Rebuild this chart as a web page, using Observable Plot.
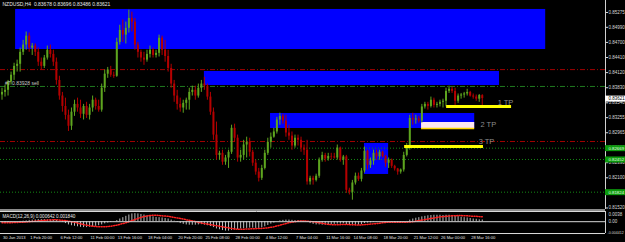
<!DOCTYPE html>
<html><head><meta charset="utf-8">
<script src="https://cdn.jsdelivr.net/npm/d3@7"></script>
<script src="https://cdn.jsdelivr.net/npm/@observablehq/plot@0.6"></script>
<style>
html,body{margin:0;padding:0;background:#000;overflow:hidden;width:625px;height:242px}
#chart svg{display:block}
</style></head>
<body><div id="chart"></div>
<script>
// ---- NZDUSD H4 candles (price) ----
const open = [0.8369,0.8374,0.8378,0.8394,0.8407,0.8424,0.8428,0.8451,0.8465,0.8482,
0.8459,0.8463,0.8451,0.8432,0.8424,0.8440,0.8455,0.8447,0.8432,0.8397,
0.8367,0.8347,0.8330,0.8309,0.8336,0.8351,0.8344,0.8332,0.8347,0.8330,
0.8344,0.8359,0.8347,0.8340,0.8382,0.8409,0.8417,0.8407,0.8405,0.8470,
0.8493,0.8484,0.8497,0.8516,0.8509,0.8465,0.8451,0.8440,0.8436,0.8447,
0.8455,0.8445,0.8449,0.8478,0.8455,0.8443,0.8420,0.8390,0.8367,0.8351,
0.8344,0.8353,0.8359,0.8374,0.8378,0.8367,0.8382,0.8390,0.8386,0.8365,
0.8336,0.8292,0.8253,0.8257,0.8240,0.8248,0.8259,0.8305,0.8286,0.8248,
0.8253,0.8273,0.8278,0.8259,0.8238,0.8221,0.8209,0.8228,0.8257,0.8278,
0.8288,0.8298,0.8321,0.8328,0.8319,0.8296,0.8290,0.8271,0.8286,0.8282,
0.8267,0.8263,0.8202,0.8209,0.8205,0.8213,0.8244,0.8253,0.8246,0.8251,
0.8250,0.8248,0.8267,0.8244,0.8250,0.8186,0.8182,0.8200,0.8213,0.8207,
0.8223,0.8261,0.8234,0.8242,0.8257,0.8250,0.8259,0.8251,0.8238,0.8244,
0.8232,0.8227,0.8221,0.8225,0.8253,0.8269,0.8324,0.8321,0.8323,0.8319,
0.8346,0.8351,0.8347,0.8359,0.8349,0.8351,0.8355,0.8357,0.8376,0.8380,
0.8376,0.8357,0.8367,0.8369,0.8371,0.8374,0.8367,0.8365,0.8361,0.83678];
const high = [0.8382,0.8388,0.8397,0.8413,0.8430,0.8436,0.8459,0.8474,0.8490,0.8488,
0.8468,0.8467,0.8459,0.8440,0.8445,0.8463,0.8465,0.8455,0.8440,0.8405,
0.8374,0.8363,0.8340,0.8344,0.8359,0.8363,0.8359,0.8351,0.8355,0.8351,
0.8367,0.8363,0.8359,0.8390,0.8417,0.8422,0.8424,0.8413,0.8478,0.8503,
0.8513,0.8509,0.8532,0.8528,0.8516,0.8470,0.8455,0.8451,0.8455,0.8463,
0.8459,0.8455,0.8484,0.8482,0.8474,0.8455,0.8428,0.8397,0.8378,0.8363,
0.8359,0.8363,0.8382,0.8386,0.8386,0.8390,0.8397,0.8403,0.8390,0.8374,
0.8344,0.8317,0.8261,0.8263,0.8253,0.8263,0.8311,0.8313,0.8292,0.8263,
0.8282,0.8288,0.8286,0.8263,0.8244,0.8228,0.8234,0.8263,0.8286,0.8296,
0.8305,0.8326,0.8334,0.8332,0.8330,0.8311,0.8298,0.8292,0.8292,0.8288,
0.8273,0.8282,0.8213,0.8213,0.8217,0.8248,0.8259,0.8257,0.8257,0.8257,
0.8257,0.8273,0.8269,0.8253,0.8253,0.8190,0.8205,0.8219,0.8219,0.8228,
0.8269,0.8263,0.8248,0.8263,0.8263,0.8263,0.8261,0.8253,0.8248,0.8246,
0.8234,0.8228,0.8227,0.8259,0.8276,0.8330,0.8334,0.8330,0.8328,0.8351,
0.8355,0.8355,0.8365,0.8363,0.8355,0.8359,0.8361,0.8382,0.8386,0.8384,
0.8382,0.8371,0.8372,0.8374,0.8380,0.8376,0.8371,0.8369,0.8370,0.83696];
const low = [0.8359,0.8365,0.8367,0.8388,0.8397,0.8413,0.8413,0.8445,0.8455,0.8451,
0.8445,0.8443,0.8424,0.8417,0.8420,0.8436,0.8440,0.8424,0.8388,0.8359,
0.8336,0.8321,0.8299,0.8301,0.8328,0.8336,0.8324,0.8321,0.8324,0.8321,
0.8336,0.8340,0.8336,0.8336,0.8374,0.8401,0.8403,0.8401,0.8403,0.8465,
0.8470,0.8467,0.8488,0.8490,0.8455,0.8440,0.8432,0.8426,0.8432,0.8440,
0.8440,0.8440,0.8442,0.8445,0.8432,0.8413,0.8382,0.8355,0.8340,0.8336,
0.8334,0.8340,0.8340,0.8367,0.8359,0.8363,0.8374,0.8378,0.8359,0.8330,
0.8282,0.8244,0.8244,0.8234,0.8234,0.8228,0.8255,0.8278,0.8240,0.8240,
0.8244,0.8248,0.8250,0.8232,0.8215,0.8202,0.8205,0.8225,0.8253,0.8267,
0.8286,0.8294,0.8311,0.8313,0.8288,0.8282,0.8263,0.8267,0.8271,0.8259,
0.8253,0.8196,0.8196,0.8196,0.8202,0.8209,0.8240,0.8240,0.8242,0.8244,
0.8246,0.8244,0.8240,0.8234,0.8180,0.8177,0.8167,0.8196,0.8203,0.8202,
0.8219,0.8225,0.8228,0.8234,0.8244,0.8244,0.8248,0.8230,0.8228,0.8228,
0.8223,0.8215,0.8217,0.8221,0.8250,0.8263,0.8311,0.8313,0.8315,0.8315,
0.8342,0.8340,0.8344,0.8344,0.8344,0.8346,0.8344,0.8346,0.8372,0.8372,
0.8349,0.8353,0.8361,0.8363,0.8367,0.8365,0.8361,0.8357,0.8355,0.83486];
const close = [0.8374,0.8378,0.8394,0.8407,0.8424,0.8428,0.8451,0.8465,0.8482,0.8459,
0.8463,0.8451,0.8432,0.8424,0.8440,0.8455,0.8447,0.8432,0.8397,0.8367,
0.8347,0.8330,0.8309,0.8336,0.8351,0.8344,0.8332,0.8347,0.8330,0.8344,
0.8359,0.8347,0.8340,0.8382,0.8409,0.8417,0.8407,0.8405,0.8470,0.8493,
0.8484,0.8497,0.8516,0.8509,0.8465,0.8451,0.8440,0.8436,0.8447,0.8455,
0.8445,0.8449,0.8478,0.8455,0.8443,0.8420,0.8390,0.8367,0.8351,0.8344,
0.8353,0.8359,0.8374,0.8378,0.8367,0.8382,0.8390,0.8386,0.8365,0.8336,
0.8292,0.8253,0.8257,0.8240,0.8248,0.8259,0.8305,0.8286,0.8248,0.8253,
0.8273,0.8278,0.8259,0.8238,0.8221,0.8209,0.8228,0.8257,0.8278,0.8288,
0.8298,0.8321,0.8328,0.8319,0.8296,0.8290,0.8271,0.8286,0.8282,0.8267,
0.8263,0.8202,0.8209,0.8205,0.8213,0.8244,0.8253,0.8246,0.8251,0.8250,
0.8248,0.8267,0.8244,0.8250,0.8186,0.8182,0.8200,0.8213,0.8207,0.8223,
0.8261,0.8234,0.8242,0.8257,0.8250,0.8259,0.8251,0.8238,0.8244,0.8232,
0.8227,0.8221,0.8225,0.8253,0.8269,0.8324,0.8321,0.8323,0.8319,0.8346,
0.8351,0.8347,0.8359,0.8349,0.8351,0.8355,0.8357,0.8376,0.8380,0.8376,
0.8357,0.8367,0.8369,0.8371,0.8374,0.8367,0.8365,0.8361,0.8368,0.83621];

// ---- MACD(12,26,9): main (histogram) and signal ----
const macdMain = [-0.0004,-0.0004,-0.0003,-0.0002,-0.0001,0,0.0001,0.0002,0.0003,0.0005,
0.0006,0.0007,0.0008,0.0008,0.0008,0.0007,0.0007,0.0006,0.0005,0.0002,
-0.0002,-0.0007,-0.0012,-0.0015,-0.0017,-0.0019,-0.0021,-0.0022,-0.0022,-0.0021,
-0.0019,-0.0017,-0.0015,-0.0012,-0.0008,-0.0005,-0.0003,-0.0001,0.0004,0.0010,
0.0015,0.0020,0.0025,0.0029,0.0030,0.0029,0.0027,0.0025,0.0022,0.0020,
0.0018,0.0016,0.0015,0.0014,0.0012,0.0010,0.0006,0.0002,-0.0003,-0.0007,
-0.0010,-0.0012,-0.0013,-0.0013,-0.0013,-0.0012,-0.0011,-0.0013,-0.0015,-0.0018,
-0.0022,-0.0027,-0.0030,-0.0033,-0.0035,-0.0035,-0.0033,-0.0031,-0.0029,-0.0027,
-0.0026,-0.0025,-0.0024,-0.0024,-0.0025,-0.0025,-0.0023,-0.0019,-0.0014,-0.0009,
-0.0005,0,0.0003,0.0005,0.0006,0.0006,0.0005,0.0004,0.0004,0.0003,
0.0002,-0.0002,-0.0007,-0.0010,-0.0012,-0.0012,-0.0013,-0.0013,-0.0012,-0.0011,
-0.0010,-0.0009,-0.0009,-0.0008,-0.0011,-0.0014,-0.0015,-0.0014,-0.0013,-0.0011,
-0.0007,-0.0005,-0.0004,-0.0002,-0.0001,0,0,-0.0001,-0.0001,-0.0002,
-0.0003,-0.0004,-0.0004,-0.0002,0.0001,0.0006,0.0010,0.0013,0.0015,0.0018,
0.0020,0.0022,0.0023,0.0024,0.0024,0.0024,0.0023,0.0024,0.0024,0.0023,
0.0021,0.0019,0.0017,0.0015,0.0014,0.0012,0.0010,0.0009,0.0007,0.000642];
const macdSignal = [-0.0004,-0.0004,-0.0004,-0.0004,-0.0003,-0.0003,-0.0002,-0.0002,-0.0001,0,
0.0001,0.0002,0.0003,0.0004,0.0005,0.0006,0.0006,0.0007,0.0007,0.0006,
0.0005,0.0004,0.0002,0,-0.0002,-0.0005,-0.0008,-0.0011,-0.0013,-0.0015,
-0.0017,-0.0018,-0.0019,-0.0019,-0.0019,-0.0018,-0.0017,-0.0015,-0.0013,-0.0010,
-0.0007,-0.0004,0,0.0004,0.0008,0.0012,0.0016,0.0019,0.0021,0.0023,
0.0024,0.0024,0.0023,0.0022,0.0021,0.0020,0.0018,0.0016,0.0014,0.0012,
0.0010,0.0007,0.0005,0.0003,0.0001,-0.0002,-0.0005,-0.0007,-0.0009,-0.0011,
-0.0013,-0.0015,-0.0017,-0.0019,-0.0021,-0.0023,-0.0025,-0.0027,-0.0028,-0.0028,
-0.0028,-0.0027,-0.0027,-0.0026,-0.0026,-0.0025,-0.0025,-0.0024,-0.0023,-0.0021,
-0.0019,-0.0016,-0.0013,-0.0010,-0.0007,-0.0004,-0.0002,0,0.0002,0.0003,
0.0003,0.0002,0.0001,0,-0.0002,-0.0004,-0.0006,-0.0008,-0.0010,-0.0011,
-0.0011,-0.0011,-0.0011,-0.0010,-0.0010,-0.0011,-0.0011,-0.0012,-0.0012,-0.0012,
-0.0011,-0.0010,-0.0009,-0.0008,-0.0007,-0.0006,-0.0004,-0.0003,-0.0002,-0.0002,
-0.0002,-0.0002,-0.0002,-0.0002,-0.0002,-0.0001,0,0.0002,0.0004,0.0006,
0.0008,0.0010,0.0012,0.0014,0.0016,0.0018,0.0019,0.0020,0.0021,0.0022,
0.0022,0.0023,0.0023,0.0022,0.0022,0.0021,0.0020,0.0020,0.0019,0.00184];

// ---- axis labels ----
const priceTicks = [0.85275,0.84990,0.84700,0.84410,0.84120,0.83830,0.83540,0.83255,0.82965,0.82680,0.82390,0.82100,0.81810,0.81520];
const macdTop = 0.0038, macdZero = 0, macdBottom = -0.00441;
const macdTopLabel = "0.0038", macdZeroLabel = "0.00", macdBottomLabel = "-0.004412";
const timeLabels = ["30 Jan 2013","1 Feb 20:00","6 Feb 12:00","11 Feb 00:00","13 Feb 16:00","18 Feb 04:00","20 Feb 20:00","25 Feb 08:00","28 Feb 00:00","4 Mar 12:00","7 Mar 04:00","11 Mar 16:00","14 Mar 08:00","18 Mar 20:00","21 Mar 12:00","26 Mar 00:00","28 Mar 16:00"];
const timeLabelBars = [0,9,19,29,38,48,58,67,77,87,97,107,116,126,136,145,155];

// ---- drawn objects (bar index / price) ----
const zoneBar1 = [4.5, 67, 88.9, 120];
const zoneBar2 = [180, 164.7, 156.5, 128];
const zoneTop = [0.85333, 0.84142, 0.83335, 0.82759];
const zoneBottom = [0.84564, 0.83873, 0.83047, 0.82164];
const tpNames = ["1 TP", "2 TP", "3 TP"];
const tpPrice = [0.83470, 0.83047, 0.82702];
const tpBar1 = [147.2, 138.9, 133.3];
const tpBar2 = [168.7, 156.5, 159.4];
const tpLabelBar = [164.1, 158.4, 157.8];
const tpLabelPrice = [0.83547, 0.83124, 0.82797];
const tp2BoxTop = 0.83162;
const redLevels = [0.84178, 0.82797];
const sellLevel = 0.83854;
const sellText = "#7 0.83928 sell";
const greenLevels = [0.82669, 0.82452, 0.81824];
const bid = 0.83621;
const title = "NZDUSD,H4  0.83678 0.83696 0.83486 0.83621";
const macdTitle = "MACD(12,26,9) 0.000642 0.001840";

// ---- build tables ----
const N = close.length;
const bars = d3.range(N).map(i => ({i, o: open[i], h: high[i], l: low[i], c: close[i]}));
const ups = bars.filter(d => d.c >= d.o), downs = bars.filter(d => d.c < d.o);
const zones = zoneTop.map((t, k) => ({x1: zoneBar1[k], x2: zoneBar2[k], top: t, bottom: zoneBottom[k]}));
const tps = tpNames.map((n, k) => ({name: n, p: tpPrice[k], x1: tpBar1[k], x2: tpBar2[k], lx: tpLabelBar[k], lp: tpLabelPrice[k]}));
const macd = d3.range(N).map(i => ({i, m: macdMain[i], s: macdSignal[i]}));
const times = timeLabels.map((t, k) => ({t, i: timeLabelBars[k]}));

const xDomain = [-0.5, 199.8];
const xEnd = xDomain[1], xOut = xDomain[1] + 7;
const UP = "#5ea51f", DOWN = "#b40000";
const FONT = "'Liberation Sans', Arial, sans-serif";
const AX = "#d8d8d8";

const mainChart = Plot.plot({
  width: 625, height: 209,
  marginLeft: 0, marginRight: 20, marginTop: 0, marginBottom: 0,
  style: {background: "#000", color: AX, fontFamily: FONT, fontSize: "4.5px", overflow: "visible"},
  x: {domain: xDomain, axis: null},
  y: {domain: [0.81491, 0.85505], axis: null},
  marks: [
    Plot.rect(zones, {x1: "x1", x2: "x2", y1: "top", y2: "bottom", fill: "#0000ff"}),
    Plot.rect([tps[1]], {x1: "x1", x2: "x2", y1: tp2BoxTop, y2: "p", fill: "#fde6f1"}),
    Plot.ruleY(redLevels, {stroke: "#a00000", strokeDasharray: "5,2,1,2"}),
    Plot.ruleY([sellLevel], {stroke: "#1f7a1f", strokeDasharray: "5,2,1,2"}),
    Plot.ruleY(greenLevels, {stroke: "#148a14", strokeDasharray: "1,2"}),
    Plot.ruleX(ups, {x: "i", y1: "l", y2: "h", stroke: UP}),
    Plot.ruleX(downs, {x: "i", y1: "l", y2: "h", stroke: DOWN}),
    Plot.ruleX(ups, {x: "i", y1: "o", y2: "c", stroke: UP, strokeWidth: 2}),
    Plot.ruleX(downs, {x: "i", y1: "o", y2: "c", stroke: DOWN, strokeWidth: 2}),
    Plot.ruleY(tps.filter(d => d.name !== "2 TP"), {y: "p", x1: "x1", x2: "x2", stroke: "#ffff00", strokeWidth: 3}),
    Plot.ruleY(tps.filter(d => d.name === "2 TP"), {y: "p", x1: "x1", x2: "x2", stroke: "#ffd700", strokeWidth: 1.5}),
    Plot.text(tps, {x: "lx", y: "lp", text: "name", textAnchor: "start", fill: "#8c8c8c", fontSize: 7.5}),
    Plot.text([sellText], {x: 1, y: sellLevel, text: d => d, textAnchor: "start", dy: -3, fill: "#c8c8c8", fontSize: 5}),
    Plot.text([title], {frameAnchor: "top-left", dx: 2, dy: 2, text: d => d, fill: "#e8e8e8", fontSize: 5}),
    Plot.axisY({anchor: "right", ticks: priceTicks, tickFormat: d => d.toFixed(5), tickSize: 2, tickPadding: 1, fontSize: 4.5}),
    Plot.ruleX([xEnd], {stroke: "#d0d0d0"}),
    Plot.ruleY([bid], {x1: xEnd, x2: xOut, stroke: "#ffffff", strokeWidth: 6}),
    Plot.text([bid], {x: xEnd, y: d => d, text: d => d.toFixed(5), textAnchor: "start", dx: 3, fill: "#000", fontSize: 4.5}),
    Plot.ruleY(greenLevels, {x1: xEnd, x2: xOut, stroke: "#0c9a0c", strokeWidth: 6}),
    Plot.text(greenLevels, {x: xEnd, y: d => d, text: d => d.toFixed(5), textAnchor: "start", dx: 3, fill: "#e8ffe8", fontSize: 4.3})
  ]
});

const macdChart = Plot.plot({
  width: 625, height: 33,
  marginLeft: 0, marginRight: 20, marginTop: 2, marginBottom: 9,
  style: {background: "#000", color: AX, fontFamily: FONT, fontSize: "4.5px", overflow: "visible"},
  x: {domain: xDomain, axis: null},
  y: {domain: [-0.0044, 0.0038], axis: null},
  marks: [
    Plot.ruleY([macdTop], {dy: -1.5, stroke: "#8c8c8c", strokeWidth: 2}),
    Plot.ruleX(macd, {x: "i", y1: 0, y2: "m", stroke: "#bdbdbd"}),
    Plot.line(macd, {x: "i", y: "s", stroke: "#ff2020", strokeDasharray: "1,1.5"}),
    Plot.text([macdTitle], {frameAnchor: "top-left", dx: 2, dy: 3, text: d => d, fill: "#e8e8e8", fontSize: 4.6}),
    Plot.ruleY([-0.0044], {stroke: "#d0d0d0"}),
    Plot.ruleX([xEnd], {stroke: "#d0d0d0"}),
    Plot.text([macdTop], {x: xEnd, y: d => d, text: [macdTopLabel], textAnchor: "start", dx: 3, dy: 3, fill: AX, fontSize: 4.5}),
    Plot.text([macdZero], {x: xEnd, y: d => d, text: [macdZeroLabel], textAnchor: "start", dx: 3, fill: AX, fontSize: 4.5}),
    Plot.text([macdBottom], {x: xEnd, y: d => d, text: [macdBottomLabel], textAnchor: "start", dx: 2, dy: -1, fill: AX, fontSize: 3.6}),
    Plot.tickY([macdTop, macdZero, macdBottom], {x1: xEnd, x2: xEnd, stroke: AX}),
    Plot.text(times, {x: "i", text: "t", frameAnchor: "bottom", dy: 5, textAnchor: "start", dx: 1, fill: "#e0e0e0", fontSize: 4.1})
  ]
});

const host = document.getElementById("chart");
host.append(mainChart, macdChart);
</script>
</body></html>
